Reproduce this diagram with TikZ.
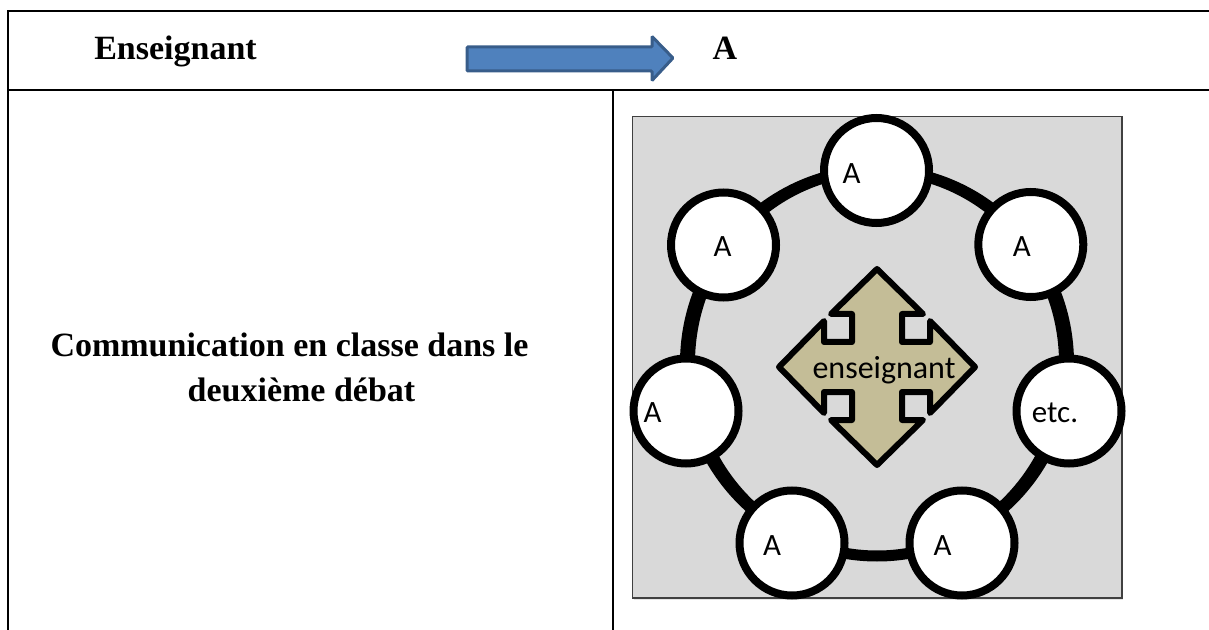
\documentclass[tikz,border=0pt]{standalone}
\usepackage{fontspec}
\setmainfont{Liberation Serif}
\newfontfamily\seatfont{Carlito}
\usepackage{tikz}
\usetikzlibrary{shadows}
\usepackage{xcolor}
\definecolor{arrowblue}{HTML}{4F81BD}
\definecolor{arrowedge}{HTML}{385D8A}
\definecolor{boardgray}{HTML}{D9D9D9}
\definecolor{boardedge}{HTML}{404040}
\definecolor{quadtan}{HTML}{C4BD97}

\begin{document}
\begin{tikzpicture}[x=0.5pt, y=-0.5pt,
    seat/.style={circle, draw=black, line width=4pt, fill=white, minimum size=52.5pt, inner sep=0pt,
        drop shadow={opacity=0.25, shadow xshift=0.6pt, shadow yshift=-1.2pt}},
    seatlabel/.style={font=\seatfont\fontsize{15.5}{18}\selectfont, inner sep=0pt},
    title/.style={font=\bfseries\fontsize{17}{20}\selectfont, inner sep=0pt, anchor=base}]
    \useasboundingbox (0,0) rectangle (1209,630);

    % Draw the table rules
    \draw[line width=1pt] (1209,11) -- (8,11) -- (8,630);
    \draw[line width=1pt] (8,90) -- (1209,90);
    \draw[line width=1pt] (612.7,90) -- (612.7,630);

    % Header row
    \node[title] (Teacher) at (175.5,60) {Enseignant};
    \node[title] (Pupil) at (725,60) {A};
    \draw[line width=1.5pt, draw=arrowedge, fill=arrowblue, rounded corners=0.5pt]
        (467,47) -- (652,47) -- (652,36.5) -- (673,58) -- (652,80.5) -- (652,71) -- (467,71) -- cycle;

    % Left cell caption
    \node[title] (Caption1) at (289.5,356.7) {Communication en classe dans le};
    \node[title] (Caption2) at (301.5,401.7) {deuxième débat};

    % Grey board with the ring
    \draw[fill=boardgray, draw=boardedge, line width=0.75pt,
        drop shadow={opacity=0.2, shadow xshift=0.6pt, shadow yshift=-1pt}] (632.5,116.5) rectangle (1122,598);
    \fill[even odd rule] (877,363) ellipse[x radius=197, y radius=198.5]
        (877,363) ellipse[x radius=182, y radius=187.5];

    % Quad arrow in the middle
    \begin{scope}[shift={(877,367)}]
        \draw[fill=quadtan, line width=3pt, line join=round,
            drop shadow={opacity=0.25, shadow xshift=0.6pt, shadow yshift=-1.2pt}]
            (0,-98) -- (46,-53) -- (25,-53) -- (25,-25) -- (53,-25) -- (53,-46) -- (98,0)
            -- (53,46) -- (53,25) -- (25,25) -- (25,53) -- (46,53) -- (0,98)
            -- (-46,53) -- (-25,53) -- (-25,25) -- (-53,25) -- (-53,46) -- (-98,0)
            -- (-53,-46) -- (-53,-25) -- (-25,-25) -- (-25,-53) -- (-46,-53) -- cycle;
    \end{scope}
    \node[seatlabel, font=\seatfont\fontsize{16}{18}\selectfont, anchor=base] (Center) at (884,378.5) {enseignant};

    % Seats round the ring
    \foreach \name/\cx/\cy/\dx/\dy/\txt in {Seat1/876.5/170.5/-25/3/A, Seat2/1030.8/244.5/-9/2/A,
        Seat3/1069/411/-14/2/etc., Seat4/962/543/-19.5/2.5/A, Seat5/792/543/-20/3/A,
        Seat6/686/411/-33.5/2/A, Seat7/723.5/245/-1/2/A}
    {
        \node[seat] (\name) at (\cx,\cy) {};
        \node[seatlabel] (\name Text) at (\cx+\dx,\cy+\dy) {\txt};
    }
\end{tikzpicture}
\end{document}
